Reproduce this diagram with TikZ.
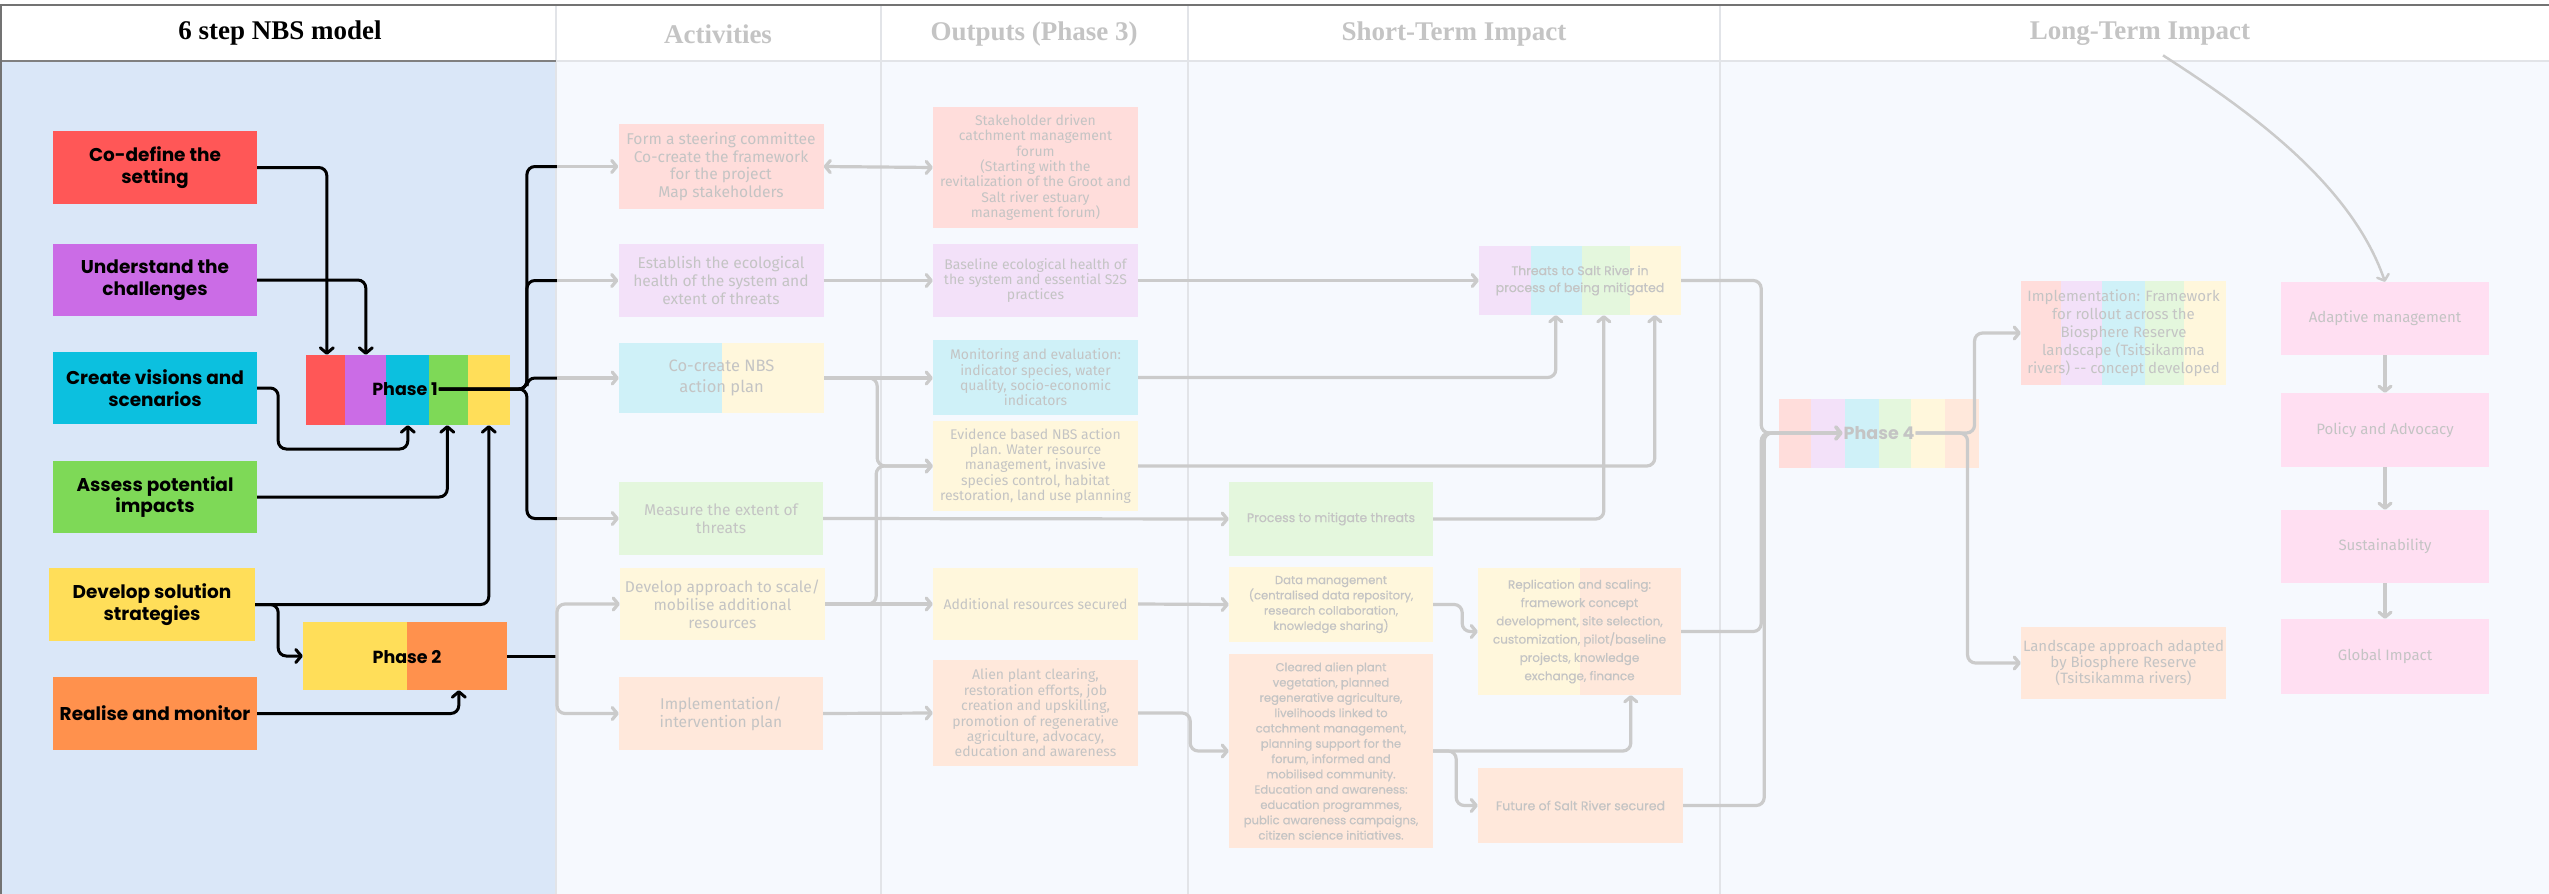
\documentclass[tikz,border=0pt]{standalone}
\usepackage{fontspec}
\setmainfont{Liberation Serif}
\newfontfamily\popfont{Poppins}
\newfontfamily\popmed[FakeBold=0.5]{Poppins}
\newfontfamily\firafont{Fira Sans}
\usetikzlibrary{arrows.meta}

% vivid step colours
\definecolor{cred}{HTML}{FF5757}
\definecolor{cpur}{HTML}{CB6CE6}
\definecolor{ccya}{HTML}{0CC0DF}
\definecolor{cgrn}{HTML}{7ED957}
\definecolor{cyel}{HTML}{FFDE59}
\definecolor{cora}{HTML}{FF914D}
% pale versions for the logic model
\definecolor{pred}{HTML}{FFDDDB}
\definecolor{ppur}{HTML}{F3E1F9}
\definecolor{pcya}{HTML}{CFF1F8}
\definecolor{pgrn}{HTML}{E4F7DD}
\definecolor{pyel}{HTML}{FFF7DC}
\definecolor{pora}{HTML}{FFE8DB}
\definecolor{ppnk}{HTML}{FFDFF2}
% backgrounds, rules, faded text
\definecolor{leftbg}{HTML}{DAE7F8}
\definecolor{rightbg}{HTML}{F6F9FE}
\definecolor{tgrey}{HTML}{C4C4C4}
\definecolor{lgrey}{HTML}{CBCBCB}
\definecolor{rule}{HTML}{E2E4E8}

\begin{document}
\begin{tikzpicture}[x=1pt,y=-1pt,
  sz/.style 2 args={minimum width=#1pt, minimum height=#2pt, inner sep=0pt},
  hdr/.style={font=\bfseries\fontsize{27}{30}\selectfont, text=tgrey},
  stepbox/.style={align=center, text=black, font=\popfont\bfseries\fontsize{18.5}{21.5}\selectfont},
  phaselbl/.style={inner sep=1pt, font=\popfont\bfseries\fontsize{17.5}{20}\selectfont},
  act/.style={align=center, text=tgrey, font=\firafont\fontsize{15.6}{17.8}\selectfont},
  outp/.style={align=center, text=tgrey, font=\firafont\fontsize{14}{15.4}\selectfont},
  stt/.style={align=center, text=tgrey, font=\popmed\fontsize{11.6}{15.3}\selectfont},
  lng/.style={align=center, text=tgrey, font=\firafont\fontsize{15}{18}\selectfont},
  bline/.style={draw=black, line width=3pt, rounded corners=8pt},
  blk/.style={bline, -{Straight Barb[length=5.5pt,width=13pt,round]}},
  gline/.style={draw=lgrey, line width=3.2pt, rounded corners=8pt},
  garr/.style={gline, -{Straight Barb[length=5pt,width=12pt,round]}},
]
\useasboundingbox (0,0) rectangle (2549,894);

% ---------- page background and columns ----------
\fill[white] (0,0) rectangle (2549,894);
\fill[rightbg] (0,61) rectangle (2549,894);
\fill[leftbg] (0,61) rectangle (556,894);
\foreach \cx in {881,1188,1720}
  \draw[rule, line width=1.5pt] (\cx,5) -- (\cx,894);
\draw[rule, line width=1.5pt] (556,5) -- (556,894);
\draw[black!55, line width=1.5pt] (0,5) -- (2549,5);
\draw[rule, line width=1.5pt] (556,61) -- (2549,61);
\draw[black!50, line width=2pt] (0,61) -- (556,61);
\draw[black!55, line width=2pt] (1,5) -- (1,894);

% ---------- column headers ----------
\node[hdr, text=black] (h0) at (280,33) {6 step NBS model};
\node[hdr] (h1) at (718,34) {Activities};
\node[hdr] (h2) at (1034,34) {Outputs (Phase 3)};
\node[hdr] (h3) at (1454,34) {Short-Term Impact};
\node[hdr] (h4) at (2140,34) {Long-Term Impact};

% ---------- six steps ----------
\node[stepbox, sz={204}{73}, fill=cred] (cd) at (155,167.5) {Co-define the\\setting};
\node[stepbox, sz={204}{72}, fill=cpur] (uc) at (155,280) {Understand the\\challenges};
\node[stepbox, sz={204}{72}, fill=ccya] (cv) at (155,388) {Create visions and\\scenarios};
\node[stepbox, sz={204}{72}, fill=cgrn] (ap) at (155,497) {Assess potential\\impacts};
\node[stepbox, sz={206}{73}, fill=cyel] (ds) at (152,604.5) {Develop solution\\strategies};
\node[stepbox, sz={204}{73}, fill=cora] (rm) at (155,713.5) {Realise and monitor};

% ---------- Phase 1 and Phase 2 bars ----------
\fill[cred] (306,355) rectangle (345,425);
\fill[cpur] (345,355) rectangle (386,425);
\fill[ccya] (386,355) rectangle (429,425);
\fill[cgrn] (429,355) rectangle (468,425);
\fill[cyel] (468,355) rectangle (510,425);
\node[sz={204}{70}] (p1) at (408,390) {};
\node[phaselbl] (p1lbl) at (405,389) {Phase 1};

\fill[cyel] (303,622) rectangle (407,690);
\fill[cora] (407,622) rectangle (507,690);
\node[sz={204}{68}] (p2) at (405,656) {};
\node[phaselbl] (p2lbl) at (407,657) {Phase 2};

% steps feeding the phases
\draw[blk] (cd.east) -| ([xshift=21pt]p1.north west);
\draw[blk] (uc.east) -| ([xshift=60pt]p1.north west);
\draw[blk] (cv.east) -- ++(21,0) -- ++(0,61) -| ([xshift=102pt]p1.south west);
\draw[blk] (ap.east) -| ([xshift=141.5pt]p1.south west);
\draw[blk] (ds.east) -| ([xshift=183pt]p1.south west);
\draw[blk] (ds.east) -- ++(23,0) |- (p2.west);
\draw[blk] (rm.east) -| ([xshift=156pt]p2.south west);

% ---------- activities ----------
\node[act, sz={205}{85}, fill=pred] (a1) at (721,166.5) {Form a steering committee\\Co-create the framework\\for the project\\Map stakeholders};
\node[act, sz={205}{73}, fill=ppur] (a2) at (721,280.5) {Establish the ecological\\health of the system and\\extent of threats};
\fill[pcya] (619,343) rectangle (722,413);
\fill[pyel] (722,343) rectangle (824,413);
\node[act, sz={205}{70}, font=\firafont\fontsize{16.5}{21}\selectfont] (a3) at (721.5,378) {Co-create NBS\\action plan};
\node[act, sz={204}{73}, fill=pgrn] (a4) at (721,518.5) {Measure the extent of\\threats};
\node[act, sz={205}{72}, fill=pyel] (a5) at (722.5,604) {Develop approach to scale/\\mobilise additional\\resources};
\node[act, sz={204}{73}, fill=pora] (a6) at (721,713.5) {Implementation/\\intervention plan};

% Phase 1 branches to the first activities, Phase 2 to the last two
\coordinate (hb) at (557,0);
\foreach \t in {a1,a2,a3,a4}{
  \draw[bline] (p1lbl.east) -- ++(88,0) |- (\t.west -| hb);
  \draw[garr] (\t.west -| hb) -- (\t.west);
}
\draw[bline] (p2.east) -- (p2.east -| hb);
\draw[garr] (p2.east -| hb) |- (a5.west);
\draw[garr] (p2.east -| hb) |- (a6.west);

% ---------- outputs ----------
\node[outp, sz={205}{121}, fill=pred] (o1) at (1035.5,167.5) {Stakeholder driven\\catchment management\\forum\\(Starting with the\\revitalization of the Groot and\\Salt river estuary\\management forum)};
\node[outp, sz={205}{73}, fill=ppur] (o2) at (1035.5,280.5) {Baseline ecological health of\\the system and essential S2S\\practices};
\node[outp, sz={205}{75}, fill=pcya] (o3) at (1035.5,377.5) {Monitoring and evaluation:\\indicator species, water\\quality, socio-economic\\indicators};
\node[outp, sz={205}{90}, fill=pyel] (o4) at (1035.5,466) {Evidence based NBS action\\plan. Water resource\\management, invasive\\species control, habitat\\restoration, land use planning};
\node[outp, sz={205}{72}, fill=pyel] (o5) at (1035.5,604) {Additional resources secured};
\node[outp, sz={205}{106}, fill=pora] (o6) at (1035.5,713) {Alien plant clearing,\\restoration efforts, job\\creation and upskilling,\\promotion of regenerative\\agriculture, advocacy,\\education and awareness};

\draw[gline, {Straight Barb[length=5pt,width=12pt,round]}-{Straight Barb[length=5pt,width=12pt,round]}] (a1.east) -- (o1.west);
\draw[garr] (a2.east) -- (o2.west);
\draw[garr] (a3.east) -- (a3.east -| o3.west);
\draw[garr] (a3.east) -- ++(53,0) |- (o4.west);
\draw[garr] (a5.east) -- ++(51,0) |- (o4.west);
\draw[garr] (a5.east) -- (o5.west);
\draw[garr] (a6.east) -- (o6.west);

% ---------- short-term impact ----------
\fill[ppur] (1479,246) rectangle (1531,315);
\fill[pcya] (1531,246) rectangle (1582,315);
\fill[pgrn] (1582,246) rectangle (1630,315);
\fill[pyel] (1630,246) rectangle (1681,315);
\node[stt, sz={202}{69}, font=\popmed\fontsize{12.5}{17}\selectfont] (st1) at (1580,280.5) {Threats to Salt River in\\process of being mitigated};
\node[stt, sz={204}{74}, fill=pgrn, font=\popmed\fontsize{12.5}{15}\selectfont] (st2) at (1331,519) {Process to mitigate threats};
\node[stt, sz={204}{75}, fill=pyel] (st3) at (1331,604.5) {Data management\\(centralised data repository,\\research collaboration,\\knowledge sharing)};
\node[stt, sz={204}{194}, fill=pora] (st4) at (1331,751) {Cleared alien plant\\vegetation, planned\\regenerative agriculture,\\livelihoods linked to\\catchment management,\\planning support for the\\forum, informed and\\mobilised community.\\Education and awareness:\\education programmes,\\public awareness campaigns,\\citizen science initiatives.};
\fill[pyel] (1478,568) rectangle (1580,695);
\fill[pora] (1580,568) rectangle (1681,695);
\node[stt, sz={203}{127}, font=\popmed\fontsize{12}{18.3}\selectfont] (st5) at (1579.5,631.5) {Replication and scaling:\\framework concept\\development, site selection,\\customization, pilot/baseline\\projects, knowledge\\exchange, finance};
\node[stt, sz={205}{75}, fill=pora, font=\popmed\fontsize{12.5}{15}\selectfont] (st6) at (1580.5,805.5) {Future of Salt River secured};

\draw[garr] (o2.east) -- (st1.west);
\draw[garr] (o3.east) -| ([xshift=77pt]st1.south west);
\draw[garr] (o4.east) -| ([xshift=176pt]st1.south west);
\draw[garr] (a4.east) -- (st2.west);
\draw[garr] (st2.east) -| ([xshift=125pt]st1.south west);
\draw[garr] (o5.east) -- (st3.west);
\draw[garr] (o6.east) -- ++(52,0) |- (st4.west);
\draw[garr] (st3.east) -- ++(29,0) |- (st5.west);
\draw[garr] (st4.east) -| ([xshift=153pt]st5.south west);
\draw[garr] (st4.east) -- ++(23,0) |- (st6.west);

% ---------- Phase 4 ----------
\fill[pred] (1779,399) rectangle (1811,468);
\fill[ppur] (1811,399) rectangle (1845,468);
\fill[pcya] (1845,399) rectangle (1879,468);
\fill[pgrn] (1879,399) rectangle (1911,468);
\fill[pyel] (1911,399) rectangle (1945,468);
\fill[pora] (1945,399) rectangle (1979,468);
\node[sz={200}{69}] (p4) at (1879,433.5) {};
\node[phaselbl, text=tgrey] (p4lbl) at (1879,433) {Phase 4};

\draw[garr] (st1.east) -- ++(80,0) |- (p4lbl.west);
\draw[garr] (st5.east) -- ++(80,0) |- (p4lbl.west);
\draw[garr] (st6.east) -- ++(81,0) |- (p4lbl.west);

% ---------- long-term impact ----------
\fill[pred] (2021,281) rectangle (2061,385);
\fill[ppur] (2061,281) rectangle (2102,385);
\fill[pcya] (2102,281) rectangle (2145,385);
\fill[pgrn] (2145,281) rectangle (2184,385);
\fill[pyel] (2184,281) rectangle (2226,385);
\node[lng, sz={205}{104}] (lt1) at (2123.5,333) {Implementation: Framework\\for rollout across the\\Biosphere Reserve\\landscape (Tsitsikamma\\rivers) -- concept developed};
\node[lng, sz={205}{72}, fill=pora, font=\firafont\fontsize{15}{16}\selectfont] (lt2) at (2123.5,663) {Landscape approach adapted\\by Biosphere Reserve\\(Tsitsikamma rivers)};

\draw[garr] (p4lbl.east) -- ++(59,0) |- (lt1.west);
\draw[garr] (p4lbl.east) -- ++(52,0) |- (lt2.west);

\node[lng, sz={208}{73}, fill=ppnk] (pk1) at (2385,318.5) {Adaptive management};
\node[lng, sz={208}{74}, fill=ppnk] (pk2) at (2385,430) {Policy and Advocacy};
\node[lng, sz={208}{73}, fill=ppnk] (pk3) at (2385,546.5) {Sustainability};
\node[lng, sz={208}{75}, fill=ppnk] (pk4) at (2385,656.5) {Global Impact};
\draw[garr] (pk1.south) -- (pk2.north);
\draw[garr] (pk2.south) -- (pk3.north);
\draw[garr] (pk3.south) -- (pk4.north);

% header arrow sweeping down into the long-term chain
\draw[garr, line width=2.5pt] ([xshift=23pt,yshift=-6pt]h4.south) .. controls (2240,105) and (2350,180) .. (pk1.north);

\end{tikzpicture}
\end{document}
